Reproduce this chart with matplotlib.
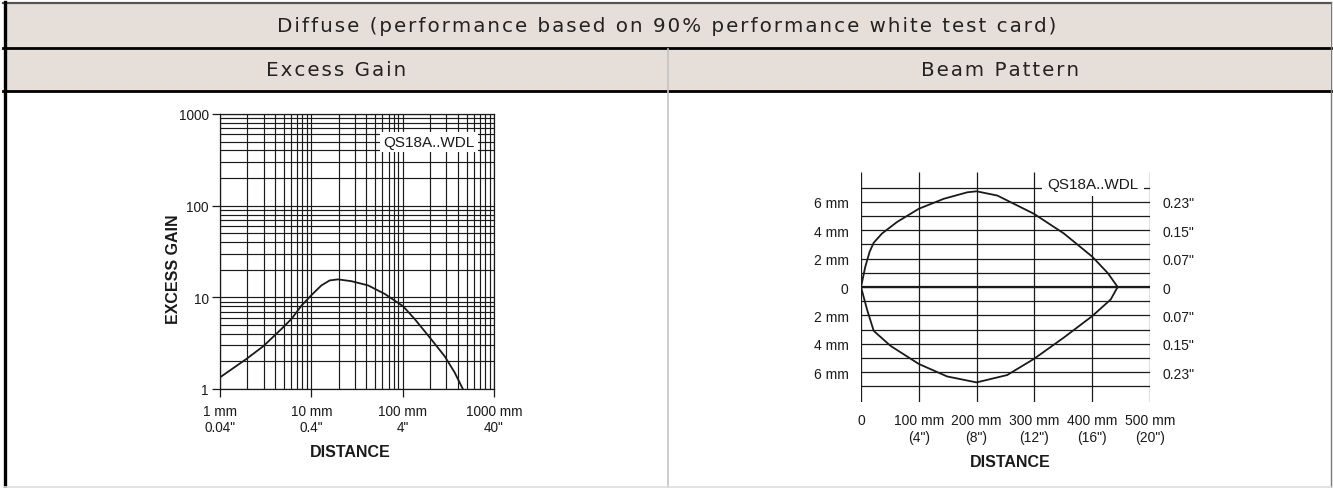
"""
Diffuse mode sheet: excess gain curve and beam pattern
"""
import matplotlib
matplotlib.use("Agg")
from matplotlib import pyplot as plt
from matplotlib.patches import Rectangle
from matplotlib.lines import Line2D

W, H = 1333, 489

# excess gain curve
gain_dist_mm = [1, 1.95, 2.98, 4.72, 6.07, 7.81, 10.05, 12.9, 15.9, 19.6, 27.5, 41.8, 63.6,
                101, 135, 197, 288, 370, 456]
gain_value = [1.34, 2.13, 2.93, 4.53, 5.82, 8.14, 10.6, 13.5, 15.3, 15.7, 15.0, 13.5, 10.9,
              8.0, 5.82, 3.67, 2.28, 1.52, 1.0]
gain_ticks = [1, 10, 100, 1000]
gain_ticklabels = ["1", "10", "100", "1000"]
gain_xticks = [1, 10, 100, 1000]
gain_xticklabels = ["1 mm\n0.04\"", "10 mm\n0.4\"", "100 mm\n4\"", "1000 mm\n40\""]

# beam pattern, upper and lower edge
beam_x_upper = [0, 7.5, 15, 22, 36.4, 62.4, 100, 143, 184, 200, 236, 299, 351, 400, 427, 444]
beam_y_upper = [0, 1.44, 2.49, 3.12, 3.77, 4.58, 5.51, 6.21, 6.67, 6.74, 6.44, 5.16, 3.77,
                2.14, 0.98, 0]
beam_x_lower = [0, 10.4, 22, 50.9, 100, 149, 200, 253, 299, 351, 400, 432, 444]
beam_y_lower = [0, -1.58, -3.09, -4.14, -5.42, -6.30, -6.72, -6.20, -5.07, -3.56, -2.05,
                -0.88, 0]
beam_xticks = [0, 100, 200, 300, 400, 500]
beam_xticklabels = ["0", "100 mm\n(4\")", "200 mm\n(8\")", "300 mm\n(12\")", "400 mm\n(16\")", "500 mm\n(20\")"]
beam_yticks = [6, 4, 2, 0, -2, -4, -6]
beam_yticklabels_mm = ["6 mm", "4 mm", "2 mm", "0", "2 mm", "4 mm", "6 mm"]
beam_yticklabels_in = ["0.23\"", "0.15\"", "0.07\"", "0", "0.07\"", "0.15\"", "0.23\""]
beam_grid_y = list(range(-7, 8))

title = "Diffuse (performance based on 90% performance white test card)"
col_titles = ["Excess Gain", "Beam Pattern"]

plt.rcParams["font.family"] = ["Liberation Sans", "DejaVu Sans"]
ink = "#1a1a1a"
head_fill = "#e6ded8"


def box(x0, y0, x1, y1):
    # pixel box -> figure fraction [left, bottom, width, height]
    return [x0 / W, 1 - y1 / H, (x1 - x0) / W, (y1 - y0) / H]


def tracked(s):
    # hair spaces between letters, the header type is letter-spaced
    return "\u200a".join(s)


fig = plt.figure(figsize=(W / 100, H / 100), dpi=100)

# table frame drawn in pixel space
bg = fig.add_axes([0, 0, 1, 1], zorder=-5)
bg.set_xlim(0, W)
bg.set_ylim(H, 0)
bg.axis("off")
bg.add_patch(Rectangle((4, 4), W - 7, 88, fc=head_fill, ec="none"))
bg.add_line(Line2D([3, W - 2], [3.5, 3.5], color="#555555", lw=1.6))
bg.add_line(Line2D([3, W - 2], [49.3, 49.3], color="black", lw=2.0))
bg.add_line(Line2D([3, W - 2], [92, 92], color="black", lw=2.0))
bg.add_line(Line2D([4.5, 4.5], [3, H], color="black", lw=2.4))
bg.add_line(Line2D([W - 2, W - 2], [3, H], color="#777777", lw=1.0))
bg.add_line(Line2D([668, 668], [50, H], color="#c4c4c4", lw=1.2))
bg.add_line(Line2D([4, W - 2], [H - 1, H - 1], color="#dddddd", lw=1.2))
head_kw = dict(ha="center", va="center", fontsize=14.3, color="#222222", family="DejaVu Sans")
bg.text(667, 26, tracked(title), **head_kw)
bg.text(336, 71, tracked(col_titles[0]), **head_kw)
bg.text(1000, 71, tracked(col_titles[1]), **head_kw)

# excess gain chart
ax1 = fig.add_axes(box(220, 115, 494, 390))
ax1.set_xscale("log")
ax1.set_yscale("log")
ax1.set_xlim(1, 1000)
ax1.set_ylim(1, 1000)
ax1.grid(which="both", color=ink, lw=0.85)
for s in ax1.spines.values():
    s.set_color(ink)
    s.set_linewidth(0.9)
ax1.set_xticks(gain_xticks)
ax1.set_xticklabels(gain_xticklabels, linespacing=1.25)
ax1.set_yticks(gain_ticks)
ax1.set_yticklabels(gain_ticklabels)
ax1.tick_params(which="major", direction="out", length=5.5, width=0.9, color=ink,
                labelsize=9.8, pad=2.5, labelcolor=ink)
ax1.tick_params(axis="x", which="major", pad=5)
ax1.tick_params(which="minor", length=0)
ax1.plot(gain_dist_mm, gain_value, color=ink, lw=1.3, zorder=3)
ax1.text(0.928, 0.898, "QS18A..WDL", transform=ax1.transAxes, ha="right", va="center",
         fontsize=11, color=ink, zorder=4,
         bbox=dict(boxstyle="square,pad=0.22", fc="white", ec="none"))
ax1.text(-0.17, 0.44, "EXCESS GAIN", transform=ax1.transAxes, rotation=90, ha="center",
         va="center", fontsize=11.5, fontweight="bold", color=ink)
ax1.text(0.474, -0.229, "DISTANCE", transform=ax1.transAxes, ha="center", va="center",
         fontsize=11.5, fontweight="bold", color=ink)

# beam pattern chart
ax2 = fig.add_axes(box(861, 173, 1150, 403))
ax2.set_xlim(0, 500)
ax2.set_ylim(-8.1, 8.1)
for s in ax2.spines.values():
    s.set_visible(False)
ax2.hlines(beam_grid_y, 0, 500, color=ink, lw=0.9)
ax2.axhline(0, xmin=0, xmax=1, color=ink, lw=1.6)
ax2.vlines(beam_xticks, -8.1, 8.1, color=ink, lw=0.9)
ax2.plot(beam_x_upper, beam_y_upper, color=ink, lw=1.3, zorder=3)
ax2.plot(beam_x_lower, beam_y_lower, color=ink, lw=1.3, zorder=3)
ax2.set_xticks(beam_xticks)
ax2.set_xticklabels(beam_xticklabels, linespacing=1.3)
ax2.set_yticks(beam_yticks)
ax2.set_yticklabels(beam_yticklabels_mm)
ax2.tick_params(axis="x", length=0, pad=8, labelsize=10, labelcolor=ink)
ax2.tick_params(axis="y", length=0, pad=9, labelsize=10, labelcolor=ink)
ax2r = ax2.twinx()
ax2r.set_ylim(ax2.get_ylim())
for s in ax2r.spines.values():
    s.set_visible(False)
ax2r.set_yticks(beam_yticks)
ax2r.set_yticklabels(beam_yticklabels_in)
ax2r.tick_params(axis="y", length=0, pad=9, labelsize=10, labelcolor=ink)
ax2.text(401, 7.26, "QS18A..WDL", ha="center", va="center", fontsize=11, color=ink, zorder=4,
         bbox=dict(boxstyle="square,pad=0.34", fc="white", ec="none"))
ax2.text(0.516, -0.257, "DISTANCE", transform=ax2.transAxes, ha="center", va="center",
         fontsize=11.5, fontweight="bold", color=ink)

fig.savefig("out.png", dpi=100)
